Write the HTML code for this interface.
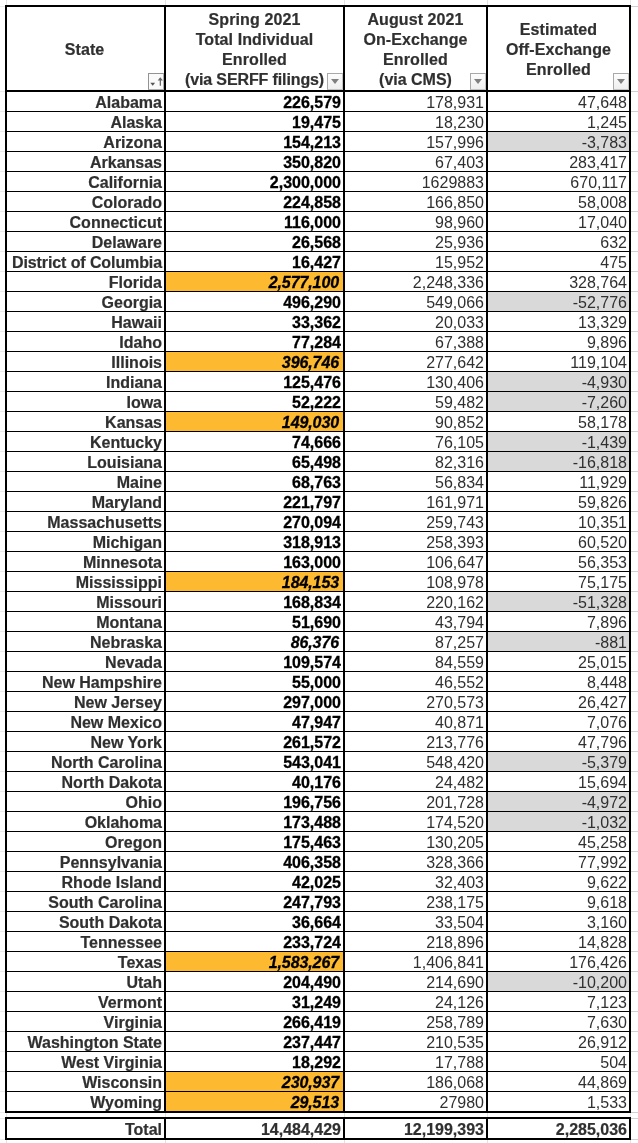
<!DOCTYPE html><html><head><meta charset="utf-8"><title>Enrollment table</title><style>
html,body{margin:0;padding:0;background:#fff;}
body{width:638px;height:1143px;position:relative;overflow:hidden;font-family:"Liberation Sans",Arial,sans-serif;font-size:16px;color:#303030;}
.a{position:absolute;}
.k{position:absolute;background:#000;}
.g{position:absolute;background:#d0d0d0;}
.c{position:absolute;height:19px;line-height:21px;text-align:right;white-space:nowrap;box-sizing:border-box;padding-right:2px;overflow:hidden;}
.b{font-weight:bold;-webkit-text-stroke:0.2px #303030;}
.n{color:#000;-webkit-text-stroke:0.3px #000;}
.i{font-style:italic;padding-right:4px;letter-spacing:-0.1px;}
.o{background:#fdb92f;}
.y{background:#d9d9d9;}
.h{position:absolute;text-align:center;font-weight:bold;line-height:20px;white-space:nowrap;color:#303030;letter-spacing:0.1px;-webkit-text-stroke:0.2px #303030;}
.f{position:absolute;width:14px;height:15px;border:1px solid #a9a9a9;border-right-color:#c4c4c4;border-bottom-color:#c4c4c4;background:linear-gradient(#fdfdfd,#efefef);box-sizing:content-box;}
.f i{position:absolute;left:2.7px;top:5px;width:0;height:0;border-left:4.7px solid transparent;border-right:4.7px solid transparent;border-top:5.6px solid #808080;}
</style></head><body>
<div class="g" style="left:0;top:6px;width:6px;height:1px;background:#ebebeb"></div>
<div class="g" style="left:631px;top:6px;width:7px;height:1px"></div>
<div class="g" style="left:0;top:91px;width:6px;height:1px;background:#ebebeb"></div>
<div class="g" style="left:631px;top:91px;width:7px;height:1px"></div>
<div class="g" style="left:0;top:111px;width:6px;height:1px;background:#ebebeb"></div>
<div class="g" style="left:631px;top:111px;width:7px;height:1px"></div>
<div class="g" style="left:0;top:131px;width:6px;height:1px;background:#ebebeb"></div>
<div class="g" style="left:631px;top:131px;width:7px;height:1px"></div>
<div class="g" style="left:0;top:151px;width:6px;height:1px;background:#ebebeb"></div>
<div class="g" style="left:631px;top:151px;width:7px;height:1px"></div>
<div class="g" style="left:0;top:171px;width:6px;height:1px;background:#ebebeb"></div>
<div class="g" style="left:631px;top:171px;width:7px;height:1px"></div>
<div class="g" style="left:0;top:191px;width:6px;height:1px;background:#ebebeb"></div>
<div class="g" style="left:631px;top:191px;width:7px;height:1px"></div>
<div class="g" style="left:0;top:211px;width:6px;height:1px;background:#ebebeb"></div>
<div class="g" style="left:631px;top:211px;width:7px;height:1px"></div>
<div class="g" style="left:0;top:231px;width:6px;height:1px;background:#ebebeb"></div>
<div class="g" style="left:631px;top:231px;width:7px;height:1px"></div>
<div class="g" style="left:0;top:251px;width:6px;height:1px;background:#ebebeb"></div>
<div class="g" style="left:631px;top:251px;width:7px;height:1px"></div>
<div class="g" style="left:0;top:271px;width:6px;height:1px;background:#ebebeb"></div>
<div class="g" style="left:631px;top:271px;width:7px;height:1px"></div>
<div class="g" style="left:0;top:291px;width:6px;height:1px;background:#ebebeb"></div>
<div class="g" style="left:631px;top:291px;width:7px;height:1px"></div>
<div class="g" style="left:0;top:311px;width:6px;height:1px;background:#ebebeb"></div>
<div class="g" style="left:631px;top:311px;width:7px;height:1px"></div>
<div class="g" style="left:0;top:331px;width:6px;height:1px;background:#ebebeb"></div>
<div class="g" style="left:631px;top:331px;width:7px;height:1px"></div>
<div class="g" style="left:0;top:351px;width:6px;height:1px;background:#ebebeb"></div>
<div class="g" style="left:631px;top:351px;width:7px;height:1px"></div>
<div class="g" style="left:0;top:371px;width:6px;height:1px;background:#ebebeb"></div>
<div class="g" style="left:631px;top:371px;width:7px;height:1px"></div>
<div class="g" style="left:0;top:391px;width:6px;height:1px;background:#ebebeb"></div>
<div class="g" style="left:631px;top:391px;width:7px;height:1px"></div>
<div class="g" style="left:0;top:411px;width:6px;height:1px;background:#ebebeb"></div>
<div class="g" style="left:631px;top:411px;width:7px;height:1px"></div>
<div class="g" style="left:0;top:431px;width:6px;height:1px;background:#ebebeb"></div>
<div class="g" style="left:631px;top:431px;width:7px;height:1px"></div>
<div class="g" style="left:0;top:451px;width:6px;height:1px;background:#ebebeb"></div>
<div class="g" style="left:631px;top:451px;width:7px;height:1px"></div>
<div class="g" style="left:0;top:471px;width:6px;height:1px;background:#ebebeb"></div>
<div class="g" style="left:631px;top:471px;width:7px;height:1px"></div>
<div class="g" style="left:0;top:491px;width:6px;height:1px;background:#ebebeb"></div>
<div class="g" style="left:631px;top:491px;width:7px;height:1px"></div>
<div class="g" style="left:0;top:511px;width:6px;height:1px;background:#ebebeb"></div>
<div class="g" style="left:631px;top:511px;width:7px;height:1px"></div>
<div class="g" style="left:0;top:531px;width:6px;height:1px;background:#ebebeb"></div>
<div class="g" style="left:631px;top:531px;width:7px;height:1px"></div>
<div class="g" style="left:0;top:551px;width:6px;height:1px;background:#ebebeb"></div>
<div class="g" style="left:631px;top:551px;width:7px;height:1px"></div>
<div class="g" style="left:0;top:571px;width:6px;height:1px;background:#ebebeb"></div>
<div class="g" style="left:631px;top:571px;width:7px;height:1px"></div>
<div class="g" style="left:0;top:591px;width:6px;height:1px;background:#ebebeb"></div>
<div class="g" style="left:631px;top:591px;width:7px;height:1px"></div>
<div class="g" style="left:0;top:611px;width:6px;height:1px;background:#ebebeb"></div>
<div class="g" style="left:631px;top:611px;width:7px;height:1px"></div>
<div class="g" style="left:0;top:631px;width:6px;height:1px;background:#ebebeb"></div>
<div class="g" style="left:631px;top:631px;width:7px;height:1px"></div>
<div class="g" style="left:0;top:651px;width:6px;height:1px;background:#ebebeb"></div>
<div class="g" style="left:631px;top:651px;width:7px;height:1px"></div>
<div class="g" style="left:0;top:671px;width:6px;height:1px;background:#ebebeb"></div>
<div class="g" style="left:631px;top:671px;width:7px;height:1px"></div>
<div class="g" style="left:0;top:691px;width:6px;height:1px;background:#ebebeb"></div>
<div class="g" style="left:631px;top:691px;width:7px;height:1px"></div>
<div class="g" style="left:0;top:711px;width:6px;height:1px;background:#ebebeb"></div>
<div class="g" style="left:631px;top:711px;width:7px;height:1px"></div>
<div class="g" style="left:0;top:731px;width:6px;height:1px;background:#ebebeb"></div>
<div class="g" style="left:631px;top:731px;width:7px;height:1px"></div>
<div class="g" style="left:0;top:751px;width:6px;height:1px;background:#ebebeb"></div>
<div class="g" style="left:631px;top:751px;width:7px;height:1px"></div>
<div class="g" style="left:0;top:771px;width:6px;height:1px;background:#ebebeb"></div>
<div class="g" style="left:631px;top:771px;width:7px;height:1px"></div>
<div class="g" style="left:0;top:791px;width:6px;height:1px;background:#ebebeb"></div>
<div class="g" style="left:631px;top:791px;width:7px;height:1px"></div>
<div class="g" style="left:0;top:811px;width:6px;height:1px;background:#ebebeb"></div>
<div class="g" style="left:631px;top:811px;width:7px;height:1px"></div>
<div class="g" style="left:0;top:831px;width:6px;height:1px;background:#ebebeb"></div>
<div class="g" style="left:631px;top:831px;width:7px;height:1px"></div>
<div class="g" style="left:0;top:851px;width:6px;height:1px;background:#ebebeb"></div>
<div class="g" style="left:631px;top:851px;width:7px;height:1px"></div>
<div class="g" style="left:0;top:871px;width:6px;height:1px;background:#ebebeb"></div>
<div class="g" style="left:631px;top:871px;width:7px;height:1px"></div>
<div class="g" style="left:0;top:891px;width:6px;height:1px;background:#ebebeb"></div>
<div class="g" style="left:631px;top:891px;width:7px;height:1px"></div>
<div class="g" style="left:0;top:911px;width:6px;height:1px;background:#ebebeb"></div>
<div class="g" style="left:631px;top:911px;width:7px;height:1px"></div>
<div class="g" style="left:0;top:931px;width:6px;height:1px;background:#ebebeb"></div>
<div class="g" style="left:631px;top:931px;width:7px;height:1px"></div>
<div class="g" style="left:0;top:951px;width:6px;height:1px;background:#ebebeb"></div>
<div class="g" style="left:631px;top:951px;width:7px;height:1px"></div>
<div class="g" style="left:0;top:971px;width:6px;height:1px;background:#ebebeb"></div>
<div class="g" style="left:631px;top:971px;width:7px;height:1px"></div>
<div class="g" style="left:0;top:991px;width:6px;height:1px;background:#ebebeb"></div>
<div class="g" style="left:631px;top:991px;width:7px;height:1px"></div>
<div class="g" style="left:0;top:1011px;width:6px;height:1px;background:#ebebeb"></div>
<div class="g" style="left:631px;top:1011px;width:7px;height:1px"></div>
<div class="g" style="left:0;top:1031px;width:6px;height:1px;background:#ebebeb"></div>
<div class="g" style="left:631px;top:1031px;width:7px;height:1px"></div>
<div class="g" style="left:0;top:1051px;width:6px;height:1px;background:#ebebeb"></div>
<div class="g" style="left:631px;top:1051px;width:7px;height:1px"></div>
<div class="g" style="left:0;top:1071px;width:6px;height:1px;background:#ebebeb"></div>
<div class="g" style="left:631px;top:1071px;width:7px;height:1px"></div>
<div class="g" style="left:0;top:1091px;width:6px;height:1px;background:#ebebeb"></div>
<div class="g" style="left:631px;top:1091px;width:7px;height:1px"></div>
<div class="g" style="left:0;top:1112px;width:6px;height:1px;background:#ebebeb"></div>
<div class="g" style="left:631px;top:1112px;width:7px;height:1px"></div>
<div class="g" style="left:0;top:1118px;width:6px;height:1px;background:#ebebeb"></div>
<div class="g" style="left:631px;top:1118px;width:7px;height:1px"></div>
<div class="g" style="left:0;top:1139px;width:6px;height:1px;background:#ebebeb"></div>
<div class="g" style="left:631px;top:1139px;width:7px;height:1px"></div>
<div class="g" style="left:6px;top:0;width:1px;height:1143px;background:#e2e2e2"></div>
<div class="g" style="left:165px;top:0;width:1px;height:1143px;background:#e2e2e2"></div>
<div class="g" style="left:344px;top:0;width:1px;height:1143px;background:#e2e2e2"></div>
<div class="g" style="left:487px;top:0;width:1px;height:1143px;background:#e2e2e2"></div>
<div class="g" style="left:630px;top:0;width:1px;height:1143px;background:#e2e2e2"></div>
<div class="c b" style="left:7px;top:92px;width:157px"><span>Alabama</span></div>
<div class="c b n" style="left:166px;top:92px;width:177px">226,579</div>
<div class="c" style="left:345px;top:92px;width:141px">178,931</div>
<div class="c" style="left:488px;top:92px;width:141px">47,648</div>
<div class="c b" style="left:7px;top:112px;width:157px"><span>Alaska</span></div>
<div class="c b n" style="left:166px;top:112px;width:177px">19,475</div>
<div class="c" style="left:345px;top:112px;width:141px">18,230</div>
<div class="c" style="left:488px;top:112px;width:141px">1,245</div>
<div class="c b" style="left:7px;top:132px;width:157px"><span>Arizona</span></div>
<div class="c b n" style="left:166px;top:132px;width:177px">154,213</div>
<div class="c" style="left:345px;top:132px;width:141px">157,996</div>
<div class="c y" style="left:488px;top:132px;width:141px">-3,783</div>
<div class="c b" style="left:7px;top:152px;width:157px"><span>Arkansas</span></div>
<div class="c b n" style="left:166px;top:152px;width:177px">350,820</div>
<div class="c" style="left:345px;top:152px;width:141px">67,403</div>
<div class="c" style="left:488px;top:152px;width:141px">283,417</div>
<div class="c b" style="left:7px;top:172px;width:157px"><span>California</span></div>
<div class="c b n" style="left:166px;top:172px;width:177px">2,300,000</div>
<div class="c" style="left:345px;top:172px;width:141px">1629883</div>
<div class="c" style="left:488px;top:172px;width:141px">670,117</div>
<div class="c b" style="left:7px;top:192px;width:157px"><span>Colorado</span></div>
<div class="c b n" style="left:166px;top:192px;width:177px">224,858</div>
<div class="c" style="left:345px;top:192px;width:141px">166,850</div>
<div class="c" style="left:488px;top:192px;width:141px">58,008</div>
<div class="c b" style="left:7px;top:212px;width:157px"><span>Connecticut</span></div>
<div class="c b n" style="left:166px;top:212px;width:177px">116,000</div>
<div class="c" style="left:345px;top:212px;width:141px">98,960</div>
<div class="c" style="left:488px;top:212px;width:141px">17,040</div>
<div class="c b" style="left:7px;top:232px;width:157px"><span>Delaware</span></div>
<div class="c b n" style="left:166px;top:232px;width:177px">26,568</div>
<div class="c" style="left:345px;top:232px;width:141px">25,936</div>
<div class="c" style="left:488px;top:232px;width:141px">632</div>
<div class="c b" style="left:7px;top:252px;width:157px"><span style="letter-spacing:-0.1px">District of Columbia</span></div>
<div class="c b n" style="left:166px;top:252px;width:177px">16,427</div>
<div class="c" style="left:345px;top:252px;width:141px">15,952</div>
<div class="c" style="left:488px;top:252px;width:141px">475</div>
<div class="c b" style="left:7px;top:272px;width:157px"><span>Florida</span></div>
<div class="c b n i o" style="left:166px;top:272px;width:177px">2,577,100</div>
<div class="c" style="left:345px;top:272px;width:141px">2,248,336</div>
<div class="c" style="left:488px;top:272px;width:141px">328,764</div>
<div class="c b" style="left:7px;top:292px;width:157px"><span>Georgia</span></div>
<div class="c b n" style="left:166px;top:292px;width:177px">496,290</div>
<div class="c" style="left:345px;top:292px;width:141px">549,066</div>
<div class="c y" style="left:488px;top:292px;width:141px">-52,776</div>
<div class="c b" style="left:7px;top:312px;width:157px"><span>Hawaii</span></div>
<div class="c b n" style="left:166px;top:312px;width:177px">33,362</div>
<div class="c" style="left:345px;top:312px;width:141px">20,033</div>
<div class="c" style="left:488px;top:312px;width:141px">13,329</div>
<div class="c b" style="left:7px;top:332px;width:157px"><span>Idaho</span></div>
<div class="c b n" style="left:166px;top:332px;width:177px">77,284</div>
<div class="c" style="left:345px;top:332px;width:141px">67,388</div>
<div class="c" style="left:488px;top:332px;width:141px">9,896</div>
<div class="c b" style="left:7px;top:352px;width:157px"><span>Illinois</span></div>
<div class="c b n i o" style="left:166px;top:352px;width:177px">396,746</div>
<div class="c" style="left:345px;top:352px;width:141px">277,642</div>
<div class="c" style="left:488px;top:352px;width:141px">119,104</div>
<div class="c b" style="left:7px;top:372px;width:157px"><span>Indiana</span></div>
<div class="c b n" style="left:166px;top:372px;width:177px">125,476</div>
<div class="c" style="left:345px;top:372px;width:141px">130,406</div>
<div class="c y" style="left:488px;top:372px;width:141px">-4,930</div>
<div class="c b" style="left:7px;top:392px;width:157px"><span>Iowa</span></div>
<div class="c b n" style="left:166px;top:392px;width:177px">52,222</div>
<div class="c" style="left:345px;top:392px;width:141px">59,482</div>
<div class="c y" style="left:488px;top:392px;width:141px">-7,260</div>
<div class="c b" style="left:7px;top:412px;width:157px"><span>Kansas</span></div>
<div class="c b n i o" style="left:166px;top:412px;width:177px">149,030</div>
<div class="c" style="left:345px;top:412px;width:141px">90,852</div>
<div class="c" style="left:488px;top:412px;width:141px">58,178</div>
<div class="c b" style="left:7px;top:432px;width:157px"><span>Kentucky</span></div>
<div class="c b n" style="left:166px;top:432px;width:177px">74,666</div>
<div class="c" style="left:345px;top:432px;width:141px">76,105</div>
<div class="c y" style="left:488px;top:432px;width:141px">-1,439</div>
<div class="c b" style="left:7px;top:452px;width:157px"><span>Louisiana</span></div>
<div class="c b n" style="left:166px;top:452px;width:177px">65,498</div>
<div class="c" style="left:345px;top:452px;width:141px">82,316</div>
<div class="c y" style="left:488px;top:452px;width:141px">-16,818</div>
<div class="c b" style="left:7px;top:472px;width:157px"><span>Maine</span></div>
<div class="c b n" style="left:166px;top:472px;width:177px">68,763</div>
<div class="c" style="left:345px;top:472px;width:141px">56,834</div>
<div class="c" style="left:488px;top:472px;width:141px">11,929</div>
<div class="c b" style="left:7px;top:492px;width:157px"><span>Maryland</span></div>
<div class="c b n" style="left:166px;top:492px;width:177px">221,797</div>
<div class="c" style="left:345px;top:492px;width:141px">161,971</div>
<div class="c" style="left:488px;top:492px;width:141px">59,826</div>
<div class="c b" style="left:7px;top:512px;width:157px"><span>Massachusetts</span></div>
<div class="c b n" style="left:166px;top:512px;width:177px">270,094</div>
<div class="c" style="left:345px;top:512px;width:141px">259,743</div>
<div class="c" style="left:488px;top:512px;width:141px">10,351</div>
<div class="c b" style="left:7px;top:532px;width:157px"><span>Michigan</span></div>
<div class="c b n" style="left:166px;top:532px;width:177px">318,913</div>
<div class="c" style="left:345px;top:532px;width:141px">258,393</div>
<div class="c" style="left:488px;top:532px;width:141px">60,520</div>
<div class="c b" style="left:7px;top:552px;width:157px"><span>Minnesota</span></div>
<div class="c b n" style="left:166px;top:552px;width:177px">163,000</div>
<div class="c" style="left:345px;top:552px;width:141px">106,647</div>
<div class="c" style="left:488px;top:552px;width:141px">56,353</div>
<div class="c b" style="left:7px;top:572px;width:157px"><span>Mississippi</span></div>
<div class="c b n i o" style="left:166px;top:572px;width:177px">184,153</div>
<div class="c" style="left:345px;top:572px;width:141px">108,978</div>
<div class="c" style="left:488px;top:572px;width:141px">75,175</div>
<div class="c b" style="left:7px;top:592px;width:157px"><span>Missouri</span></div>
<div class="c b n" style="left:166px;top:592px;width:177px">168,834</div>
<div class="c" style="left:345px;top:592px;width:141px">220,162</div>
<div class="c y" style="left:488px;top:592px;width:141px">-51,328</div>
<div class="c b" style="left:7px;top:612px;width:157px"><span>Montana</span></div>
<div class="c b n" style="left:166px;top:612px;width:177px">51,690</div>
<div class="c" style="left:345px;top:612px;width:141px">43,794</div>
<div class="c" style="left:488px;top:612px;width:141px">7,896</div>
<div class="c b" style="left:7px;top:632px;width:157px"><span>Nebraska</span></div>
<div class="c b n i" style="left:166px;top:632px;width:177px">86,376</div>
<div class="c" style="left:345px;top:632px;width:141px">87,257</div>
<div class="c y" style="left:488px;top:632px;width:141px">-881</div>
<div class="c b" style="left:7px;top:652px;width:157px"><span>Nevada</span></div>
<div class="c b n" style="left:166px;top:652px;width:177px">109,574</div>
<div class="c" style="left:345px;top:652px;width:141px">84,559</div>
<div class="c" style="left:488px;top:652px;width:141px">25,015</div>
<div class="c b" style="left:7px;top:672px;width:157px"><span>New Hampshire</span></div>
<div class="c b n" style="left:166px;top:672px;width:177px">55,000</div>
<div class="c" style="left:345px;top:672px;width:141px">46,552</div>
<div class="c" style="left:488px;top:672px;width:141px">8,448</div>
<div class="c b" style="left:7px;top:692px;width:157px"><span>New Jersey</span></div>
<div class="c b n" style="left:166px;top:692px;width:177px">297,000</div>
<div class="c" style="left:345px;top:692px;width:141px">270,573</div>
<div class="c" style="left:488px;top:692px;width:141px">26,427</div>
<div class="c b" style="left:7px;top:712px;width:157px"><span>New Mexico</span></div>
<div class="c b n" style="left:166px;top:712px;width:177px">47,947</div>
<div class="c" style="left:345px;top:712px;width:141px">40,871</div>
<div class="c" style="left:488px;top:712px;width:141px">7,076</div>
<div class="c b" style="left:7px;top:732px;width:157px"><span>New York</span></div>
<div class="c b n" style="left:166px;top:732px;width:177px">261,572</div>
<div class="c" style="left:345px;top:732px;width:141px">213,776</div>
<div class="c" style="left:488px;top:732px;width:141px">47,796</div>
<div class="c b" style="left:7px;top:752px;width:157px"><span>North Carolina</span></div>
<div class="c b n" style="left:166px;top:752px;width:177px">543,041</div>
<div class="c" style="left:345px;top:752px;width:141px">548,420</div>
<div class="c y" style="left:488px;top:752px;width:141px">-5,379</div>
<div class="c b" style="left:7px;top:772px;width:157px"><span>North Dakota</span></div>
<div class="c b n" style="left:166px;top:772px;width:177px">40,176</div>
<div class="c" style="left:345px;top:772px;width:141px">24,482</div>
<div class="c" style="left:488px;top:772px;width:141px">15,694</div>
<div class="c b" style="left:7px;top:792px;width:157px"><span>Ohio</span></div>
<div class="c b n" style="left:166px;top:792px;width:177px">196,756</div>
<div class="c" style="left:345px;top:792px;width:141px">201,728</div>
<div class="c y" style="left:488px;top:792px;width:141px">-4,972</div>
<div class="c b" style="left:7px;top:812px;width:157px"><span>Oklahoma</span></div>
<div class="c b n" style="left:166px;top:812px;width:177px">173,488</div>
<div class="c" style="left:345px;top:812px;width:141px">174,520</div>
<div class="c y" style="left:488px;top:812px;width:141px">-1,032</div>
<div class="c b" style="left:7px;top:832px;width:157px"><span>Oregon</span></div>
<div class="c b n" style="left:166px;top:832px;width:177px">175,463</div>
<div class="c" style="left:345px;top:832px;width:141px">130,205</div>
<div class="c" style="left:488px;top:832px;width:141px">45,258</div>
<div class="c b" style="left:7px;top:852px;width:157px"><span>Pennsylvania</span></div>
<div class="c b n" style="left:166px;top:852px;width:177px">406,358</div>
<div class="c" style="left:345px;top:852px;width:141px">328,366</div>
<div class="c" style="left:488px;top:852px;width:141px">77,992</div>
<div class="c b" style="left:7px;top:872px;width:157px"><span>Rhode Island</span></div>
<div class="c b n" style="left:166px;top:872px;width:177px">42,025</div>
<div class="c" style="left:345px;top:872px;width:141px">32,403</div>
<div class="c" style="left:488px;top:872px;width:141px">9,622</div>
<div class="c b" style="left:7px;top:892px;width:157px"><span>South Carolina</span></div>
<div class="c b n" style="left:166px;top:892px;width:177px">247,793</div>
<div class="c" style="left:345px;top:892px;width:141px">238,175</div>
<div class="c" style="left:488px;top:892px;width:141px">9,618</div>
<div class="c b" style="left:7px;top:912px;width:157px"><span>South Dakota</span></div>
<div class="c b n" style="left:166px;top:912px;width:177px">36,664</div>
<div class="c" style="left:345px;top:912px;width:141px">33,504</div>
<div class="c" style="left:488px;top:912px;width:141px">3,160</div>
<div class="c b" style="left:7px;top:932px;width:157px"><span>Tennessee</span></div>
<div class="c b n" style="left:166px;top:932px;width:177px">233,724</div>
<div class="c" style="left:345px;top:932px;width:141px">218,896</div>
<div class="c" style="left:488px;top:932px;width:141px">14,828</div>
<div class="c b" style="left:7px;top:952px;width:157px"><span>Texas</span></div>
<div class="c b n i o" style="left:166px;top:952px;width:177px">1,583,267</div>
<div class="c" style="left:345px;top:952px;width:141px">1,406,841</div>
<div class="c" style="left:488px;top:952px;width:141px">176,426</div>
<div class="c b" style="left:7px;top:972px;width:157px"><span>Utah</span></div>
<div class="c b n" style="left:166px;top:972px;width:177px">204,490</div>
<div class="c" style="left:345px;top:972px;width:141px">214,690</div>
<div class="c y" style="left:488px;top:972px;width:141px">-10,200</div>
<div class="c b" style="left:7px;top:992px;width:157px"><span>Vermont</span></div>
<div class="c b n" style="left:166px;top:992px;width:177px">31,249</div>
<div class="c" style="left:345px;top:992px;width:141px">24,126</div>
<div class="c" style="left:488px;top:992px;width:141px">7,123</div>
<div class="c b" style="left:7px;top:1012px;width:157px"><span>Virginia</span></div>
<div class="c b n" style="left:166px;top:1012px;width:177px">266,419</div>
<div class="c" style="left:345px;top:1012px;width:141px">258,789</div>
<div class="c" style="left:488px;top:1012px;width:141px">7,630</div>
<div class="c b" style="left:7px;top:1032px;width:157px"><span>Washington State</span></div>
<div class="c b n" style="left:166px;top:1032px;width:177px">237,447</div>
<div class="c" style="left:345px;top:1032px;width:141px">210,535</div>
<div class="c" style="left:488px;top:1032px;width:141px">26,912</div>
<div class="c b" style="left:7px;top:1052px;width:157px"><span>West Virginia</span></div>
<div class="c b n" style="left:166px;top:1052px;width:177px">18,292</div>
<div class="c" style="left:345px;top:1052px;width:141px">17,788</div>
<div class="c" style="left:488px;top:1052px;width:141px">504</div>
<div class="c b" style="left:7px;top:1072px;width:157px"><span>Wisconsin</span></div>
<div class="c b n i o" style="left:166px;top:1072px;width:177px">230,937</div>
<div class="c" style="left:345px;top:1072px;width:141px">186,068</div>
<div class="c" style="left:488px;top:1072px;width:141px">44,869</div>
<div class="c b" style="left:7px;top:1092px;width:157px"><span>Wyoming</span></div>
<div class="c b n i o" style="left:166px;top:1092px;width:177px">29,513</div>
<div class="c" style="left:345px;top:1092px;width:141px">27980</div>
<div class="c" style="left:488px;top:1092px;width:141px">1,533</div>
<div class="c b" style="left:7px;top:1119px;width:157px">Total</div>
<div class="c b" style="left:166px;top:1119px;width:177px">14,484,429</div>
<div class="c b" style="left:345px;top:1119px;width:141px">12,199,393</div>
<div class="c b" style="left:488px;top:1119px;width:141px">2,285,036</div>
<div class="k" style="left:7px;top:111px;width:622px;height:1px"></div>
<div class="k" style="left:7px;top:131px;width:622px;height:1px"></div>
<div class="k" style="left:7px;top:151px;width:622px;height:1px"></div>
<div class="k" style="left:7px;top:171px;width:622px;height:1px"></div>
<div class="k" style="left:7px;top:191px;width:622px;height:1px"></div>
<div class="k" style="left:7px;top:211px;width:622px;height:1px"></div>
<div class="k" style="left:7px;top:231px;width:622px;height:1px"></div>
<div class="k" style="left:7px;top:251px;width:622px;height:1px"></div>
<div class="k" style="left:7px;top:271px;width:622px;height:1px"></div>
<div class="k" style="left:7px;top:291px;width:622px;height:1px"></div>
<div class="k" style="left:7px;top:311px;width:622px;height:1px"></div>
<div class="k" style="left:7px;top:331px;width:622px;height:1px"></div>
<div class="k" style="left:7px;top:351px;width:622px;height:1px"></div>
<div class="k" style="left:7px;top:371px;width:622px;height:1px"></div>
<div class="k" style="left:7px;top:391px;width:622px;height:1px"></div>
<div class="k" style="left:7px;top:411px;width:622px;height:1px"></div>
<div class="k" style="left:7px;top:431px;width:622px;height:1px"></div>
<div class="k" style="left:7px;top:451px;width:622px;height:1px"></div>
<div class="k" style="left:7px;top:471px;width:622px;height:1px"></div>
<div class="k" style="left:7px;top:491px;width:622px;height:1px"></div>
<div class="k" style="left:7px;top:511px;width:622px;height:1px"></div>
<div class="k" style="left:7px;top:531px;width:622px;height:1px"></div>
<div class="k" style="left:7px;top:551px;width:622px;height:1px"></div>
<div class="k" style="left:7px;top:571px;width:622px;height:1px"></div>
<div class="k" style="left:7px;top:591px;width:622px;height:1px"></div>
<div class="k" style="left:7px;top:611px;width:622px;height:1px"></div>
<div class="k" style="left:7px;top:631px;width:622px;height:1px"></div>
<div class="k" style="left:7px;top:651px;width:622px;height:1px"></div>
<div class="k" style="left:7px;top:671px;width:622px;height:1px"></div>
<div class="k" style="left:7px;top:691px;width:622px;height:1px"></div>
<div class="k" style="left:7px;top:711px;width:622px;height:1px"></div>
<div class="k" style="left:7px;top:731px;width:622px;height:1px"></div>
<div class="k" style="left:7px;top:751px;width:622px;height:1px"></div>
<div class="k" style="left:7px;top:771px;width:622px;height:1px"></div>
<div class="k" style="left:7px;top:791px;width:622px;height:1px"></div>
<div class="k" style="left:7px;top:811px;width:622px;height:1px"></div>
<div class="k" style="left:7px;top:831px;width:622px;height:1px"></div>
<div class="k" style="left:7px;top:851px;width:622px;height:1px"></div>
<div class="k" style="left:7px;top:871px;width:622px;height:1px"></div>
<div class="k" style="left:7px;top:891px;width:622px;height:1px"></div>
<div class="k" style="left:7px;top:911px;width:622px;height:1px"></div>
<div class="k" style="left:7px;top:931px;width:622px;height:1px"></div>
<div class="k" style="left:7px;top:951px;width:622px;height:1px"></div>
<div class="k" style="left:7px;top:971px;width:622px;height:1px"></div>
<div class="k" style="left:7px;top:991px;width:622px;height:1px"></div>
<div class="k" style="left:7px;top:1011px;width:622px;height:1px"></div>
<div class="k" style="left:7px;top:1031px;width:622px;height:1px"></div>
<div class="k" style="left:7px;top:1051px;width:622px;height:1px"></div>
<div class="k" style="left:7px;top:1071px;width:622px;height:1px"></div>
<div class="k" style="left:7px;top:1091px;width:622px;height:1px"></div>
<div class="k" style="left:5px;top:5px;width:626px;height:2px"></div>
<div class="k" style="left:5px;top:90px;width:626px;height:2px"></div>
<div class="k" style="left:5px;top:1111px;width:626px;height:2px"></div>
<div class="k" style="left:5px;top:1117px;width:626px;height:2px"></div>
<div class="k" style="left:5px;top:1138px;width:626px;height:2px"></div>
<div class="k" style="left:5px;top:5px;width:2px;height:1108px"></div>
<div class="k" style="left:5px;top:1117px;width:2px;height:23px"></div>
<div class="k" style="left:164px;top:5px;width:2px;height:1108px"></div>
<div class="k" style="left:164px;top:1117px;width:2px;height:23px"></div>
<div class="k" style="left:343px;top:5px;width:2px;height:1108px"></div>
<div class="k" style="left:343px;top:1117px;width:2px;height:23px"></div>
<div class="k" style="left:486px;top:5px;width:2px;height:1108px"></div>
<div class="k" style="left:486px;top:1117px;width:2px;height:23px"></div>
<div class="k" style="left:629px;top:5px;width:2px;height:1108px"></div>
<div class="k" style="left:629px;top:1117px;width:2px;height:23px"></div>
<div class="h" style="left:6px;top:40px;width:157px">State</div>
<div class="h" style="left:166px;top:10px;width:177px">Spring 2021<br>Total Individual<br>Enrolled<br><span style="letter-spacing:-0.12px">(via SERFF filings)</span></div>
<div class="h" style="left:345px;top:10px;width:141px">August 2021<br>On-Exchange<br>Enrolled<br><span style="letter-spacing:0">(via CMS)</span></div>
<div class="h" style="left:488px;top:20px;width:141px">Estimated<br>Off-Exchange<br>Enrolled</div>
<div class="f" style="left:148px;top:73px;border-color:#939393 #b0b0b0 #b0b0b0 #939393;background:#fafafa"><svg width="14" height="15" viewBox="0 0 14 15" style="position:absolute;left:0;top:0"><path d="M1.3 8.8h4.8l-2.4 2.9z" fill="#555"/><path d="M11.3 11.8V4.5" stroke="#555" stroke-width="1.1" fill="none"/><path d="M8.7 6.5l2.6-3.3 2.6 3.3z" fill="#666"/></svg></div>
<div class="f" style="left:327px;top:73px"><i></i></div>
<div class="f" style="left:470px;top:73px"><i></i></div>
<div class="f" style="left:613px;top:73px"><i></i></div>
</body></html>
